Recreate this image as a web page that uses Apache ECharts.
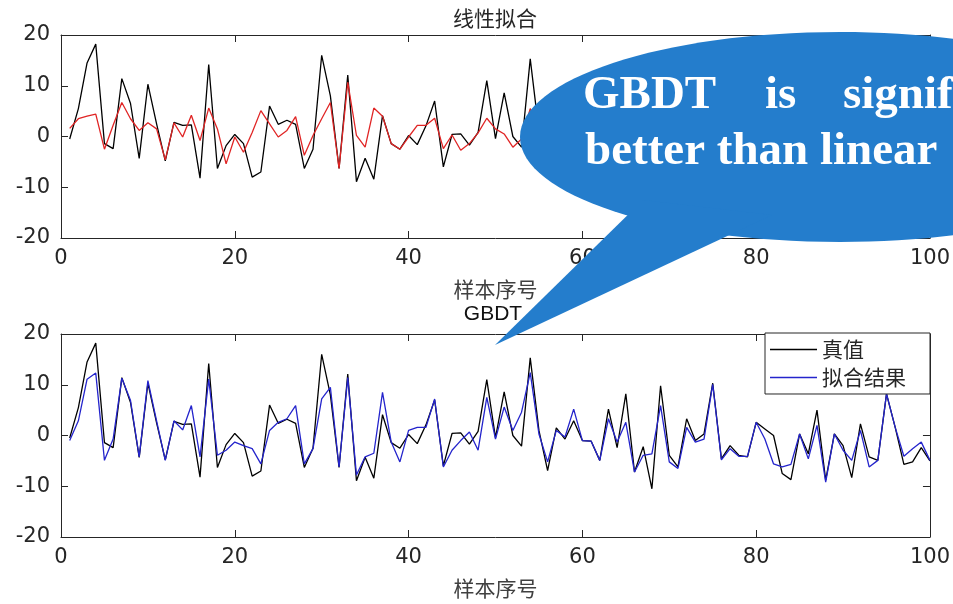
<!DOCTYPE html>
<html>
<head>
<meta charset="utf-8">
<script src="https://cdn.jsdelivr.net/npm/echarts@6/dist/echarts.min.js"></script>
<style>
  html, body { margin: 0; padding: 0; background: #fff; }
  #chart { width: 953px; height: 604px; }
</style>
</head>
<body>
<div id="chart"></div>
<script>
// Sample numbers 1..100 on the x axis
const sampleNo = [
  1,2,3,4,5,6,7,8,9,10,11,12,13,14,15,16,17,18,19,20,
  21,22,23,24,25,26,27,28,29,30,31,32,33,34,35,36,37,38,39,40,
  41,42,43,44,45,46,47,48,49,50,51,52,53,54,55,56,57,58,59,60,
  61,62,63,64,65,66,67,68,69,70,71,72,73,74,75,76,77,78,79,80,
  81,82,83,84,85,86,87,88,89,90,91,92,93,94,95,96,97,98,99,100
];

// Observed (true) values
const trueValues = [
  -0.5, 5.5, 14.5, 18.2, -1.4, -2.4, 11.4, 6.5, -4.3, 10.3,
  2.5, -4.8, 2.8, 2.2, 2.3, -8.2, 14.2, -6.3, -1.8, 0.4,
  -1.4, -8.0, -7.0, 6.0, 2.4, 3.2, 2.4, -6.3, -2.5, 16.0,
  8.0, -6.3, 12.1, -8.9, -4.3, -8.4, 4.1, -1.4, -2.5, 0.2,
  -1.6, 2.1, 7.0, -6.0, 0.4, 0.5, -1.7, 0.8, 11.0, -0.4,
  8.6, 0.0, -2.1, 15.3, 1.0, -6.9, 1.5, -0.7, 2.9, -1.0,
  -1.1, -4.9, 5.2, -2.4, 8.2, -7.2, -2.2, -10.5, 9.8, -3.9,
  -6.2, 3.3, -1.0, 0.3, 10.3, -4.6, -2.0, -3.9, -4.2, 2.6,
  1.3, 0.0, -7.5, -8.7, 0.3, -3.6, 5.0, -8.8, 0.3, -2.0,
  -8.3, 2.3, -4.2, -4.9, 8.2, 1.6, -5.7, -5.2, -2.4, -5.0
];

// Linear regression output
const linearFit = [
  1.6, 3.5, 4.0, 4.4, -2.5, 2.2, 6.7, 3.5, 1.2, 2.7,
  1.5, -4.6, 2.7, -0.1, 4.2, -0.8, 5.6, 1.5, -5.4, -0.1,
  -3.1, 0.8, 5.1, 2.5, -0.1, 1.2, 3.9, -3.7, 0.2, 3.5,
  6.7, -6.3, 10.7, 0.2, -2.1, 5.6, 4.0, -1.4, -2.5, -0.1,
  2.2, 2.2, 3.6, -2.4, 0.3, -2.7, -1.4, 0.7, 3.6, 1.5,
  0.5, -2.1, -0.5, 5.5, 1.2, -3.0, 0.8, 0.5, 2.0, -0.8,
  0.6, -2.5, 3.0, -0.6, 4.2, -3.5, -0.8, -4.8, 4.5, -1.5,
  -2.8, 1.9, 0.2, 0.8, 4.8, -2.2, -0.6, -1.8, -2.0, 1.6,
  1.0, 0.3, -3.2, -3.9, 0.5, -1.5, 2.8, -4.0, 0.6, -0.9,
  -3.6, 1.4, -1.9, -2.2, 4.0, 1.1, -2.6, -2.4, -0.9, -2.3
];

// GBDT output
const gbdtFit = [
  -1.0, 2.9, 11.1, 12.3, -4.9, -0.7, 11.3, 6.9, -4.2, 10.8,
  2.9, -4.9, 2.9, 1.1, 5.9, -4.2, 11.1, -3.9, -2.9, -1.3,
  -2.0, -2.6, -5.6, 1.0, 2.6, 3.3, 5.9, -5.6, -2.6, 7.2,
  9.5, -6.2, 11.4, -7.8, -4.2, -3.5, 8.5, -1.3, -5.2, 1.0,
  1.6, 1.6, 7.2, -6.2, -2.9, -1.0, 0.7, -2.9, 7.5, -0.7,
  5.6, 1.0, 4.6, 12.4, 0.3, -5.2, 1.0, -0.3, 5.2, -1.0,
  -1.1, -4.9, 3.3, -1.3, 2.6, -7.2, -3.9, -3.6, 5.9, -5.2,
  -6.5, 1.6, -1.3, -0.7, 10.1, -4.8, -2.6, -4.1, -4.1, 2.6,
  -0.7, -5.6, -6.2, -5.7, 0.3, -4.6, 2.0, -9.2, 0.3, -2.9,
  -4.9, 1.0, -6.2, -4.9, 8.2, 1.6, -4.1, -2.6, -1.3, -4.9
];

// Tick values
const xTicks = [0, 20, 40, 60, 80, 100];
const yTicks = [-20, -10, 0, 10, 20];

const INK = '#262626';
const CJK = '"Noto Sans CJK SC", "Noto Sans", sans-serif';
const NUM = '"DejaVu Sans", sans-serif';
const BUBBLE = '#247dcc';

const xRange = { min: xTicks[0], max: xTicks[xTicks.length - 1], interval: xTicks[1] - xTicks[0] };
const yRange = { min: yTicks[0], max: yTicks[yTicks.length - 1], interval: yTicks[1] - yTicks[0] };

const lineAxis = { show: true, onZero: false, lineStyle: { color: INK, width: 1 } };
const innerTick = { show: true, inside: true, length: 7, lineStyle: { color: INK, width: 1 } };

function boxXAxes(gridIndex) {
  return [
    Object.assign({
      type: 'value', gridIndex, position: 'bottom',
      axisLine: lineAxis, axisTick: innerTick, splitLine: { show: false },
      axisLabel: { margin: 10, fontSize: 21, fontFamily: NUM, color: INK },
      name: '样本序号', nameLocation: 'middle', nameGap: 41,
      nameTextStyle: { fontSize: 21, fontFamily: CJK, color: '#404040' }
    }, xRange),
    Object.assign({
      type: 'value', gridIndex, position: 'top',
      axisLine: lineAxis, axisTick: innerTick, splitLine: { show: false },
      axisLabel: { show: false }
    }, xRange)
  ];
}

function boxYAxes(gridIndex) {
  return [
    Object.assign({
      type: 'value', gridIndex, position: 'left',
      axisLine: lineAxis, axisTick: innerTick, splitLine: { show: false },
      axisLabel: { margin: 11, fontSize: 21, fontFamily: NUM, color: INK }
    }, yRange),
    Object.assign({
      type: 'value', gridIndex, position: 'right',
      axisLine: lineAxis, axisTick: innerTick, splitLine: { show: false },
      axisLabel: { show: false }
    }, yRange)
  ];
}

function pairs(values) {
  return sampleNo.map((x, i) => [x, values[i]]);
}

function trace(name, values, color, axisIndex) {
  return {
    name, type: 'line', data: pairs(values),
    xAxisIndex: axisIndex, yAxisIndex: axisIndex,
    symbol: 'none', showSymbol: false,
    lineStyle: { color, width: 1.3 }, itemStyle: { color },
    emphasis: { disabled: true }
  };
}

const chart = echarts.init(document.getElementById('chart'), null, { renderer: 'canvas' });

chart.setOption({
  backgroundColor: '#fff',
  animation: false,
  title: [
    { text: '线性拟合', left: 495, top: 8, textAlign: 'center', padding: 0,
      textStyle: { fontSize: 21, fontWeight: 'normal', fontFamily: CJK, color: INK } },
    { text: 'GBDT', left: 493, top: 304, textAlign: 'center', padding: 0,
      textStyle: { fontSize: 21, fontWeight: 'normal', fontFamily: '"Liberation Sans", sans-serif', color: '#111' } }
  ],
  grid: [
    { left: 61, right: 23, top: 35, height: 203 },
    { left: 61, right: 23, top: 334, height: 203 }
  ],
  xAxis: boxXAxes(0).concat(boxXAxes(1)),
  yAxis: boxYAxes(0).concat(boxYAxes(1)),
  legend: {
    data: ['真值', '拟合结果'],
    orient: 'vertical', right: 23, top: 333,
    icon: 'rect', itemWidth: 47, itemHeight: 1.5, itemGap: 7,
    padding: [6, 24, 6, 5],
    backgroundColor: '#fff', borderColor: INK, borderWidth: 1, borderRadius: 0,
    textStyle: { fontSize: 21, fontFamily: CJK, color: INK },
    selectedMode: false
  },
  series: [
    trace('真值', trueValues, '#000000', 0),
    trace('线性拟合结果', linearFit, '#e02424', 0),
    trace('真值', trueValues, '#000000', 2),
    trace('拟合结果', gbdtFit, '#2424cc', 2)
  ],
  graphic: [
    { type: 'ellipse', z: 100, shape: { cx: 840, cy: 137, rx: 320, ry: 105 }, style: { fill: BUBBLE } },
    { type: 'polygon', z: 100, shape: { points: [[495, 345], [643, 200], [772, 215]] }, style: { fill: BUBBLE } },
    { type: 'text', z: 101, style: { text: 'GBDT', x: 583, y: 96, fill: '#fff',
        font: 'bold 47px "Liberation Serif", serif', verticalAlign: 'middle', textVerticalAlign: 'middle' } },
    { type: 'text', z: 101, style: { text: 'is', x: 765, y: 96, fill: '#fff',
        font: 'bold 47px "Liberation Serif", serif', verticalAlign: 'middle', textVerticalAlign: 'middle' } },
    { type: 'text', z: 101, style: { text: 'significantly', x: 843, y: 96, fill: '#fff',
        font: 'bold 47px "Liberation Serif", serif', verticalAlign: 'middle', textVerticalAlign: 'middle' } },
    { type: 'text', z: 101, style: { text: 'better than linear', x: 585, y: 152, fill: '#fff',
        font: 'bold 47px "Liberation Serif", serif', verticalAlign: 'middle', textVerticalAlign: 'middle' } }
  ]
});
</script>
</body>
</html>
